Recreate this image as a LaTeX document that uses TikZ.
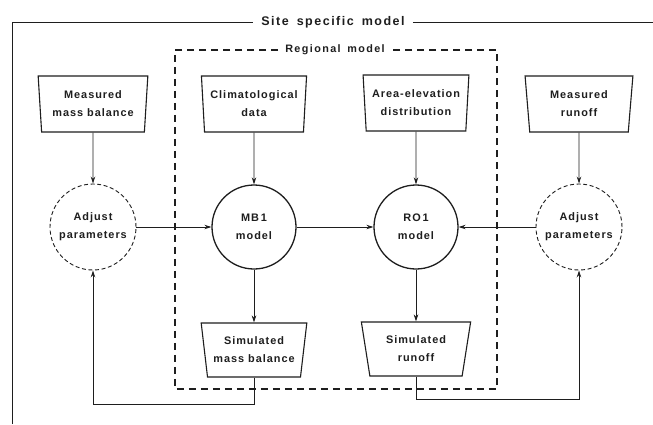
\documentclass[tikz,border=0pt]{standalone}
\usepackage{fontspec}
\newfontfamily\lab[LetterSpace=9]{Liberation Sans}
\newfontfamily\rlab[LetterSpace=13,WordSpace=1.5]{Liberation Sans}
\newfontfamily\ttl[LetterSpace=12,WordSpace=1.6]{Liberation Sans}
\usetikzlibrary{shapes.geometric,arrows.meta}
\definecolor{ink}{HTML}{1E1E1E}
\tikzset{
  txt/.style={font=\lab\bfseries\fontsize{10.9}{18}\selectfont, text=ink, align=center},
  trap/.style={txt, draw=ink, line width=1.1pt, trapezium, shape border rotate=180,
    trapezium stretches=true, trapezium angle=#1, inner sep=0pt, minimum height=56pt},
  circ/.style={txt, draw=ink, line width=1.3pt, circle, minimum size=84pt, inner sep=0pt},
  dcirc/.style={txt, draw=ink, line width=0.9pt, dash pattern=on 4pt off 2.6pt, circle, minimum size=86pt, inner sep=0pt},
  arr/.style={draw=ink, line width=0.9pt, -{Stealth[length=7pt,width=4.5pt]}},
  ln/.style={draw=ink, line width=0.9pt},
  title/.style={font=\ttl\bfseries\fontsize{12.5}{14}\selectfont, text=ink, inner xsep=8pt}
}
\begin{document}
\begin{tikzpicture}[x=1pt,y=-1pt]
\useasboundingbox[fill=white] (0,0) rectangle (653,424);
% outer site specific frame
\node[title] (st) at (333,22) {Site specific model};
\coordinate (oBL) at (12,424);
\coordinate (oTL) at (12,22);
\coordinate (oTR) at (653,22);
\draw[ln, line width=1pt] (oBL) -- (oTL) -- (st.west);
\draw[ln, line width=1pt] (st.east) -- (oTR);
% regional dashed frame
\node[title, font=\rlab\bfseries\fontsize{10.8}{12}\selectfont, inner xsep=7pt] (rt) at (335,50) {Regional model};
\coordinate (rTL) at (175,50);
\coordinate (rTR) at (497,50);
\coordinate (rBL) at (175,389);
\coordinate (rBR) at (497,389);
\draw[ln, line width=1.3pt, dash pattern=on 7pt off 5pt] (rt.west) -- (rTL) -- (rBL) -- (rBR) -- (rTR) -- (rt.east);
% top trapezoids
\node[trap=84, minimum width=110pt] (mmb) at (93,104) {Measured\\mass balance};
\node[trap=84, minimum width=106pt] (clim) at (254,104) {Climatological\\data};
\node[trap=84, minimum width=106pt] (area) at (416,103) {Area-elevation\\distribution};
\node[trap=84, minimum width=108pt] (mro) at (579,104) {Measured\\runoff};
% circles
\node[dcirc] (adjL) at (93,227) {Adjust\\parameters};
\node[circ] (mb1) at (254,227) {MB\,1\\model};
\node[circ] (ro1) at (416,227) {RO\,1\\model};
\node[dcirc] (adjR) at (579,227) {Adjust\\parameters};
% bottom trapezoids
\node[trap=78, minimum width=106pt, minimum height=54pt] (smb) at (254,350) {Simulated\\mass balance};
\node[trap=78, minimum width=110pt, minimum height=54pt] (sro) at (416,349) {Simulated\\runoff};
% connectors
\draw[arr] (mmb) -- (adjL);
\draw[arr] (clim) -- (mb1);
\draw[arr] (area) -- (ro1);
\draw[arr] (mro) -- (adjR);
\draw[arr] (adjL) -- (mb1);
\draw[arr] (mb1) -- (ro1);
\draw[arr] (adjR) -- (ro1);
\draw[arr] (mb1) -- (smb);
\draw[arr] (ro1) -- (sro);
\coordinate (fbL) at (93,404);
\coordinate (fbR) at (579,399);
\draw[arr] (smb.south) |- (fbL) -- (adjL.south);
\draw[arr] (sro.south) |- (fbR) -- (adjR.south);
\end{tikzpicture}
\end{document}
